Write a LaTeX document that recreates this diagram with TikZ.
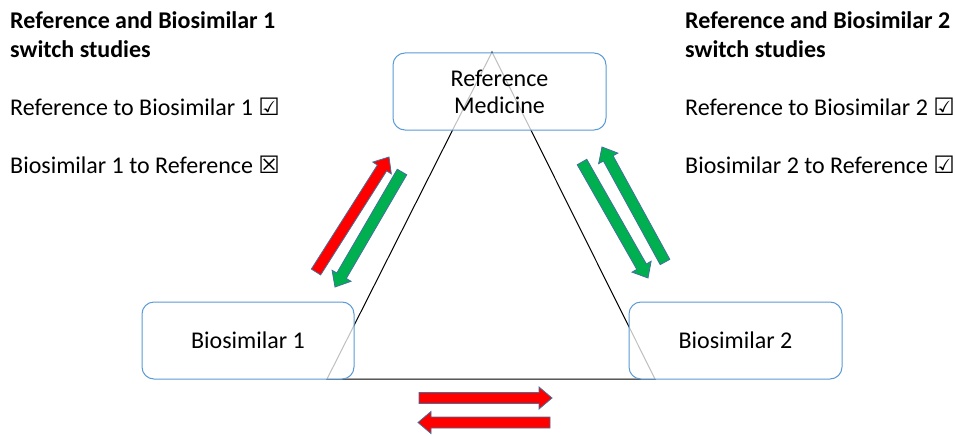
\documentclass[tikz,border=0pt]{standalone}
\usepackage{fontspec}
\setmainfont{Carlito}
\newfontfamily\symfont{DejaVu Sans}
\usepackage{tikz}
\usetikzlibrary{calc}
\definecolor{boxblue}{HTML}{5B9BD5}
\definecolor{edgeblue}{HTML}{41719C}
\definecolor{okgreen}{HTML}{00B050}

\begin{document}
\begin{tikzpicture}[x=1pt,y=-1pt]
	\tikzstyle{every node}+=[inner sep=0pt]
	\tikzstyle{medbox}=[draw=boxblue, line width=1pt, rounded corners=12pt, fill=white, fill opacity=0.75, text opacity=1, minimum height=77pt, align=center]
	\tikzstyle{blockarrow}=[draw=edgeblue, line width=0.8pt, line join=miter]
	\fontsize{24}{27}\selectfont
	\useasboundingbox (0,0) rectangle (955,436);
	% triangle behind the boxes
	\coordinate (top) at (492,52);
	\coordinate (left) at (327,379);
	\coordinate (right) at (655,379);
	\draw [black, line width=1pt] (top) -- (left) -- (right) -- cycle;
	% the three medicines
	\node [medbox, minimum width=213pt] (refmed) at (499.5,91.5) {Reference\\Medicine};
	\node [medbox, minimum width=212pt] (bio1) at (248,340.5) {Biosimilar 1};
	\node [medbox, minimum width=213pt] (bio2) at (735.5,340.5) {Biosimilar 2};
	% switch arrows: tail x/y, tip x/y, colour
	\foreach \ax/\ay/\bx/\by/\col in {316/272/389/157/red, 402/172/335/287/okgreen, 582/162/648/278/okgreen, 665/262/602/147/okgreen, 419/398/552/398/red, 550/422.5/418/422.5/red}
	{
		\coordinate (tail) at (\ax,\ay);
		\coordinate (tip) at (\bx,\by);
		\coordinate (neck) at ($(tip)!13pt!(tail)$);
		\draw [blockarrow, fill=\col] ($(tail)!5.5pt!90:(tip)$) -- ($(neck)!5.5pt!-90:(tail)$) -- ($(neck)!11pt!-90:(tail)$) -- (tip) -- ($(neck)!11pt!90:(tail)$) -- ($(neck)!5.5pt!90:(tail)$) -- ($(tail)!5.5pt!-90:(tip)$) -- cycle;
	}
	% study lists
	\node [anchor=base west] (headA) at (10,29) {\bfseries Reference and Biosimilar 1};
	\node [anchor=base west] (headA2) at (10,57) {\bfseries switch studies};
	\node [anchor=base west] (studyA1) at (10,115) {Reference to Biosimilar 1 {\symfont\fontsize{24}{24}\selectfont ☑}};
	\node [anchor=base west] (studyA2) at (10,173) {Biosimilar 1 to Reference {\symfont\fontsize{24}{24}\selectfont ☒}};
	\node [anchor=base west] (headB) at (685,29) {\bfseries Reference and Biosimilar 2};
	\node [anchor=base west] (headB2) at (685,57) {\bfseries switch studies};
	\node [anchor=base west] (studyB1) at (685,115) {Reference to Biosimilar 2 {\symfont\fontsize{24}{24}\selectfont ☑}};
	\node [anchor=base west] (studyB2) at (685,173) {Biosimilar 2 to Reference {\symfont\fontsize{24}{24}\selectfont ☑}};
\end{tikzpicture}
\end{document}
